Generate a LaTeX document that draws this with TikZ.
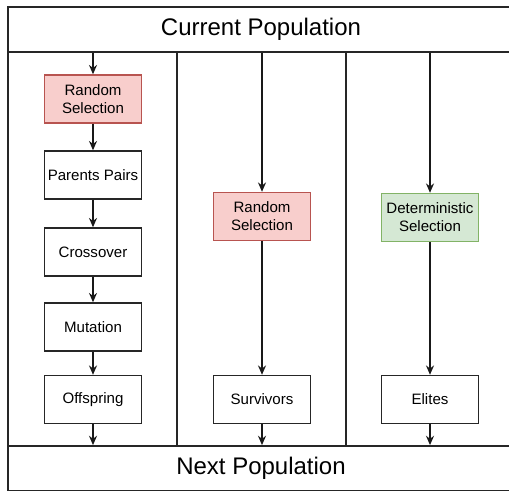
\documentclass[tikz,border=0pt]{standalone}
\usepackage{fontspec}
\setmainfont{Liberation Sans}
\usepackage{xcolor}
\usepackage{tikz}
\usetikzlibrary{arrows.meta,positioning,calc}
\definecolor{redfill}{HTML}{F8CECC}
\definecolor{reddraw}{HTML}{B85450}
\definecolor{greenfill}{HTML}{D5E8D4}
\definecolor{greendraw}{HTML}{82B366}

\begin{document}
\begin{tikzpicture}[
    x=0.75pt, y=-0.75pt,
    box/.style={rectangle, draw=black!85, line width=1.1pt, fill=white, minimum width=72.75pt, minimum height=36pt, inner sep=1pt, align=center, font=\fontsize{11.3}{13.5}\selectfont},
    randbox/.style={box, draw=reddraw, fill=redfill},
    detbox/.style={box, draw=greendraw, fill=greenfill},
    band/.style={rectangle, draw=black!85, line width=1.1pt, minimum width=379.5pt, minimum height=34pt, font=\fontsize{18}{21}\selectfont},
    arrow/.style={-{Stealth[length=7pt,width=6pt]}, line width=1.1pt, black!90}
]
    \clip (0,0) rectangle (509,490);
    % Frame and column dividers
    \draw[line width=1.1pt, black!85] (8,7) rectangle (514,492);
    \node[band] (cur) at (261,29.5) {Current Population};
    \node[band] (nxt) at (261,468.5) {Next Population};
    \draw[line width=1.1pt, black!85] (177,52) -- (177,445);
    \draw[line width=1.1pt, black!85] (346,52) -- (346,445);

    % Left column
    \node[randbox] (rs1) at (93,99) {Random\\Selection};
    \node[box] (pp) at (93,175) {Parents Pairs};
    \node[box] (co) at (93,252) {Crossover};
    \node[box] (mu) at (93,327) {Mutation};
    \node[box] (off) at (93,399.5) {Offspring};

    % Middle column
    \node[randbox] (rs2) at (262,216.5) {Random\\Selection};
    \node[box] (surv) at (262,399.5) {Survivors};

    % Right column
    \node[detbox] (det) at (430,217.5) {Deterministic\\Selection};
    \node[box] (eli) at (430,399.5) {Elites};

    % Arrows
    \draw[arrow] (cur.south -| rs1) -- (rs1);
    \draw[arrow] (rs1) -- (pp);
    \draw[arrow] (pp) -- (co);
    \draw[arrow] (co) -- (mu);
    \draw[arrow] (mu) -- (off);
    \draw[arrow] (off) -- (off |- nxt.north);

    \draw[arrow] (cur.south -| rs2) -- (rs2);
    \draw[arrow] (rs2) -- (surv);
    \draw[arrow] (surv) -- (surv |- nxt.north);

    \draw[arrow] (cur.south -| det) -- (det);
    \draw[arrow] (det) -- (eli);
    \draw[arrow] (eli) -- (eli |- nxt.north);
\end{tikzpicture}
\end{document}
